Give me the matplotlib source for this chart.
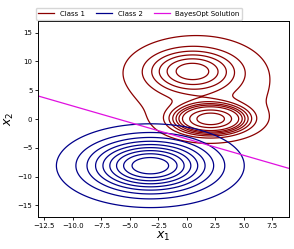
import numpy as np
import matplotlib.pyplot as plt

# gaussian blobs: (weight, mean x, mean y, sd x, sd y, corr)
class1_blobs = [
    (0.30, 0.4, 8.4, 2.4, 2.3, 0.0),
    (0.45, 2.1, 0.0, 1.7, 1.4, 0.0),
    (0.25, 1.4, 5.3, 3.6, 5.0, 0.0),
]
class2_blobs = [
    (1.0, -3.2, -8.1, 3.4, 3.0, 0.0),
]
line_x = [-13.05, 8.96]
line_y = [4.0, -8.57]

xlim = (-13.05, 8.96)
ylim = (-17.0, 17.0)
xticks = [-12.5, -10.0, -7.5, -5.0, -2.5, 0.0, 2.5, 5.0, 7.5]
yticks = [-15, -10, -5, 0, 5, 10, 15]


def density(blobs, X, Y):
    z = np.zeros_like(X)
    for w, mx, my, sx, sy, r in blobs:
        dx = (X - mx) / sx
        dy = (Y - my) / sy
        q = (dx**2 - 2 * r * dx * dy + dy**2) / (1 - r**2)
        z += w * np.exp(-0.5 * q) / (2 * np.pi * sx * sy * np.sqrt(1 - r**2))
    return z


def iso_levels(z, props):
    vals = np.sort(z.ravel())[::-1]
    cum = np.cumsum(vals) / vals.sum()
    idx = np.searchsorted(cum, 1 - np.asarray(props))
    return np.unique(np.take(vals, idx, mode="clip"))


xs = np.linspace(xlim[0], xlim[1], 400)
ys = np.linspace(ylim[0], ylim[1], 400)
X, Y = np.meshgrid(xs, ys)
props = np.linspace(0.05, 1, 10)

fig = plt.figure(figsize=(2.94, 2.49), dpi=100)
ax = fig.add_axes([38 / 294, 1 - 217 / 249, 251 / 294, 196 / 249])

z1 = density(class1_blobs, X, Y)
z2 = density(class2_blobs, X, Y)
ax.contour(X, Y, z1, levels=iso_levels(z1, props), colors="darkred", linewidths=0.9)
ax.contour(X, Y, z2, levels=iso_levels(z2, props), colors="darkblue", linewidths=0.9)
ax.plot(line_x, line_y, color="#e010e0", linewidth=0.9)

# proxies for legend
ax.plot([], [], color="darkred", linewidth=0.9, label="Class 1")
ax.plot([], [], color="darkblue", linewidth=0.9, label="Class 2")
ax.plot([], [], color="#e010e0", linewidth=0.9, label="BayesOpt Solution")
ax.legend(loc="lower left", bbox_to_anchor=(-0.015, 1.0), ncol=3,
          fontsize=5, handlelength=2.3, borderaxespad=0.2, columnspacing=1.6)

ax.set_xlim(xlim)
ax.set_ylim(ylim)
ax.set_xticks(xticks)
ax.set_yticks(yticks)
ax.tick_params(labelsize=5, length=2.5, width=0.6, pad=1.5)
for s in ax.spines.values():
    s.set_linewidth(0.7)
ax.set_xlabel("$x_1$", fontsize=9, labelpad=1)
ax.set_ylabel("$x_2$", fontsize=9, labelpad=1)

fig.savefig("out.png", dpi=100)
